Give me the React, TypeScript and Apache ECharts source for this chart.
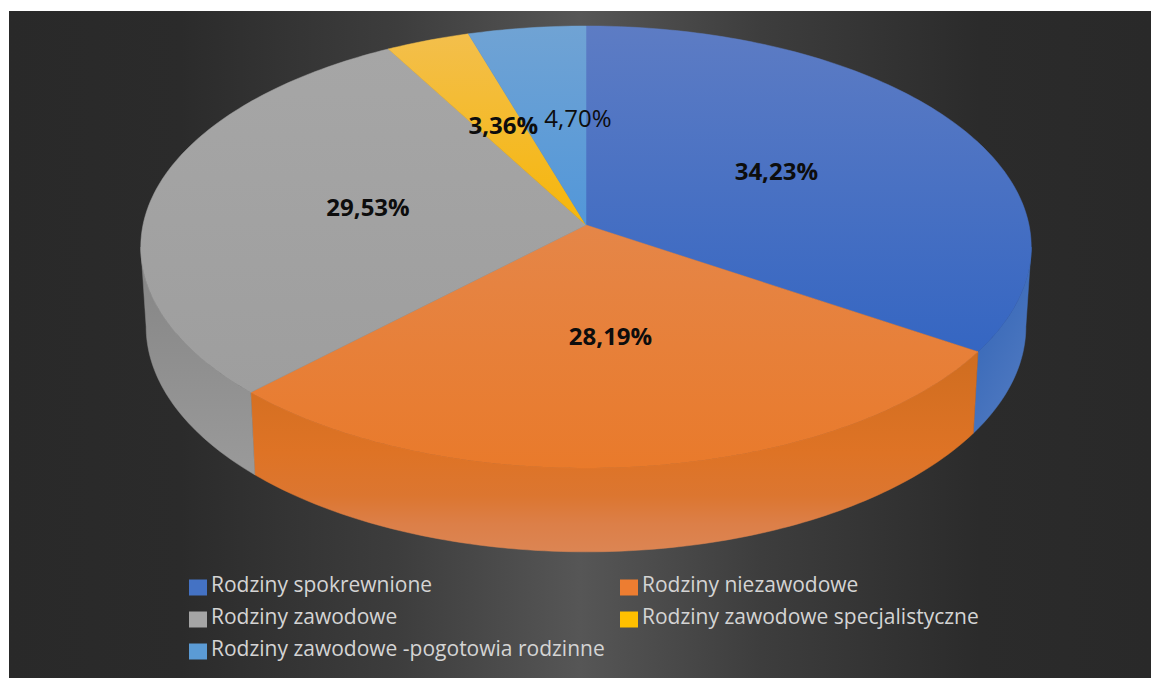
import React, { useEffect, useRef } from "react";
import * as echarts from "echarts";

const categories = [
  "Rodziny spokrewnione",
  "Rodziny niezawodowe",
  "Rodziny zawodowe",
  "Rodziny zawodowe specjalistyczne",
  "Rodziny zawodowe -pogotowia rodzinne",
];
const values = [34.23, 28.19, 29.53, 3.36, 4.7];
const labels = ["34,23%", "28,19%", "29,53%", "3,36%", "4,70%"];
const boldLabels = [true, true, true, true, false];
const legendColors = ["#4472c4", "#ed7d31", "#a5a5a5", "#ffc000", "#5b9bd5"];
const topColors = [
  ["#5d7cc4", "#3566c2"],
  ["#e58648", "#e97a2b"],
  ["#a6a6a6", "#9e9e9e"],
  ["#f3bf4c", "#f6b60a"],
  ["#70a3d4", "#5297d9"],
];
const sideColors = [
  ["#2f62b4", "#4f79c1"],
  ["#cf6d20", "#dc8553"],
  ["#848484", "#9a9a9a"],
  ["#000000", "#000000"],
  ["#000000", "#000000"],
];

const FONT = "'Open Sans', sans-serif";
const CX = 586;
const TOP_Y = 225;
const BOTTOM_Y = 304;
const RX = 443;
const RY = 218.8;
const PERSPECTIVE = -0.0995;
const BOTTOM_SCALE_X = 0.988;
const BOTTOM_SCALE_Y = 1.02;
const VISIBLE_FROM = 95.7;
const VISIBLE_TO = 264.3;

const total = values.reduce((a, b) => a + b, 0);
const sweepStart = (i: number) =>
  (values.slice(0, i).reduce((a, b) => a + b, 0) / total) * 360;

function project(deg: number, f = 1, cy = TOP_Y, sx = 1, sy = 1): number[] {
  const a = (deg * Math.PI) / 180;
  const u = Math.sin(a) * f;
  const v = -Math.cos(a) * f;
  const d = 1 + PERSPECTIVE * v;
  return [CX + (sx * RX * u) / d, cy + (sy * RY * v) / d];
}

function arc(from: number, to: number, cy = TOP_Y, sx = 1, sy = 1): number[][] {
  const n = Math.max(2, Math.ceil(Math.abs(to - from)));
  const out: number[][] = [];
  for (let i = 0; i <= n; i++) {
    out.push(project(from + ((to - from) * i) / n, 1, cy, sx, sy));
  }
  return out;
}

const vGrad = (c: string[]) =>
  new echarts.graphic.LinearGradient(0, 0, 0, 1, [
    { offset: 0, color: c[0] },
    { offset: 1, color: c[1] },
  ]);
const sideGrad = (c: string[], i: number) =>
  i === 0
    ? new echarts.graphic.LinearGradient(0, 0, 0.6, 1, [
        { offset: 0, color: c[0] },
        { offset: 1, color: c[1] },
      ])
    : i === 1
    ? new echarts.graphic.LinearGradient(0, 0, 0, 1, [
        { offset: 0, color: c[0] },
        { offset: 0.5, color: "#de7325" },
        { offset: 0.72, color: "#dc7630" },
        { offset: 0.86, color: "#dc7f48" },
        { offset: 1, color: c[1] },
      ])
    : vGrad(c);

function sliceRenderer(i: number) {
  return () => {
    const start = sweepStart(i);
    const end = start + (values[i] / total) * 360;
    const children: any[] = [];
    const sFrom = Math.max(start, VISIBLE_FROM);
    const sTo = Math.min(end, VISIBLE_TO);
    if (sTo > sFrom) {
      const pts = [
        ...arc(sFrom, sTo),
        ...arc(sTo, sFrom, BOTTOM_Y, BOTTOM_SCALE_X, BOTTOM_SCALE_Y),
      ];
      const fill = sideGrad(sideColors[i], i);
      children.push({
        type: "polygon",
        shape: { points: pts },
        style: { fill, stroke: fill, lineWidth: 0.5 },
      });
    }
    const fill = vGrad(topColors[i]);
    children.push({
      type: "polygon",
      shape: { points: [[CX, TOP_Y], ...arc(start, end)] },
      style: { fill, stroke: fill, lineWidth: 0.5 },
    });
    const mid = (start + end) / 2;
    const p = project(mid, 0.5);
    children.push({
      type: "text",
      z2: 50,
      style: {
        text: labels[i],
        x: p[0] + (i === 4 ? 23 : 0),
        y: p[1] - 4,
        fill: "#0d0d0d",
        align: "center",
        verticalAlign: "middle",
        fontFamily: FONT,
        fontSize: 24,
        fontWeight: boldLabels[i] ? "bold" : "normal",
      },
    });
    return { type: "group", children };
  };
}

const legendLayout: [number, number, number][] = [
  [0, 189, 573],
  [1, 620, 573],
  [2, 189, 605],
  [3, 620, 605],
  [4, 189, 637],
];

export default function App() {
  const ref = useRef<HTMLDivElement>(null);
  useEffect(() => {
    const chart = echarts.init(ref.current!, undefined, { renderer: "svg" });
    chart.setOption({
      animation: false,
      backgroundColor: "#ffffff",
      graphic: [
        {
          type: "rect",
          shape: { x: 9, y: 11, width: 1142, height: 667 },
          style: {
            fill: new echarts.graphic.LinearGradient(0, 0, 1, 0, [
              { offset: 0, color: "#292929" },
              { offset: 0.15, color: "#2b2b2b" },
              { offset: 0.34, color: "#3d3d3d" },
              { offset: 0.5, color: "#565656" },
              { offset: 0.66, color: "#3d3d3d" },
              { offset: 0.85, color: "#2b2b2b" },
              { offset: 1, color: "#292929" },
            ]),
          },
        },
      ],
      legend: legendLayout.map(([idx, left, top]) => ({
        left,
        top,
        orient: "vertical",
        itemWidth: 18,
        itemHeight: 16,
        selectedMode: false,
        padding: 0,
        data: [categories[idx]],
        icon: "rect",
        formatter: "{a|{name}}",
        textStyle: {
          color: "#d4d4d4",
          fontFamily: FONT,
          fontSize: 21,
          rich: {
            a: {
              color: "#d4d4d4",
              fontFamily: FONT,
              fontSize: 21,
              lineHeight: 24,
              padding: [0, 0, 8, -1],
            },
          },
        },
      })),
      series: categories.map((name, i) => ({
        type: "custom",
        name,
        coordinateSystem: "none",
        silent: true,
        itemStyle: { color: legendColors[i] },
        data: [values[i]],
        renderItem: sliceRenderer(i),
      })),
    });
    return () => chart.dispose();
  }, []);
  return (
    <div
      ref={ref}
      style={{ position: "absolute", left: 0, top: 0, width: 1151, height: 678 }}
    />
  );
}
